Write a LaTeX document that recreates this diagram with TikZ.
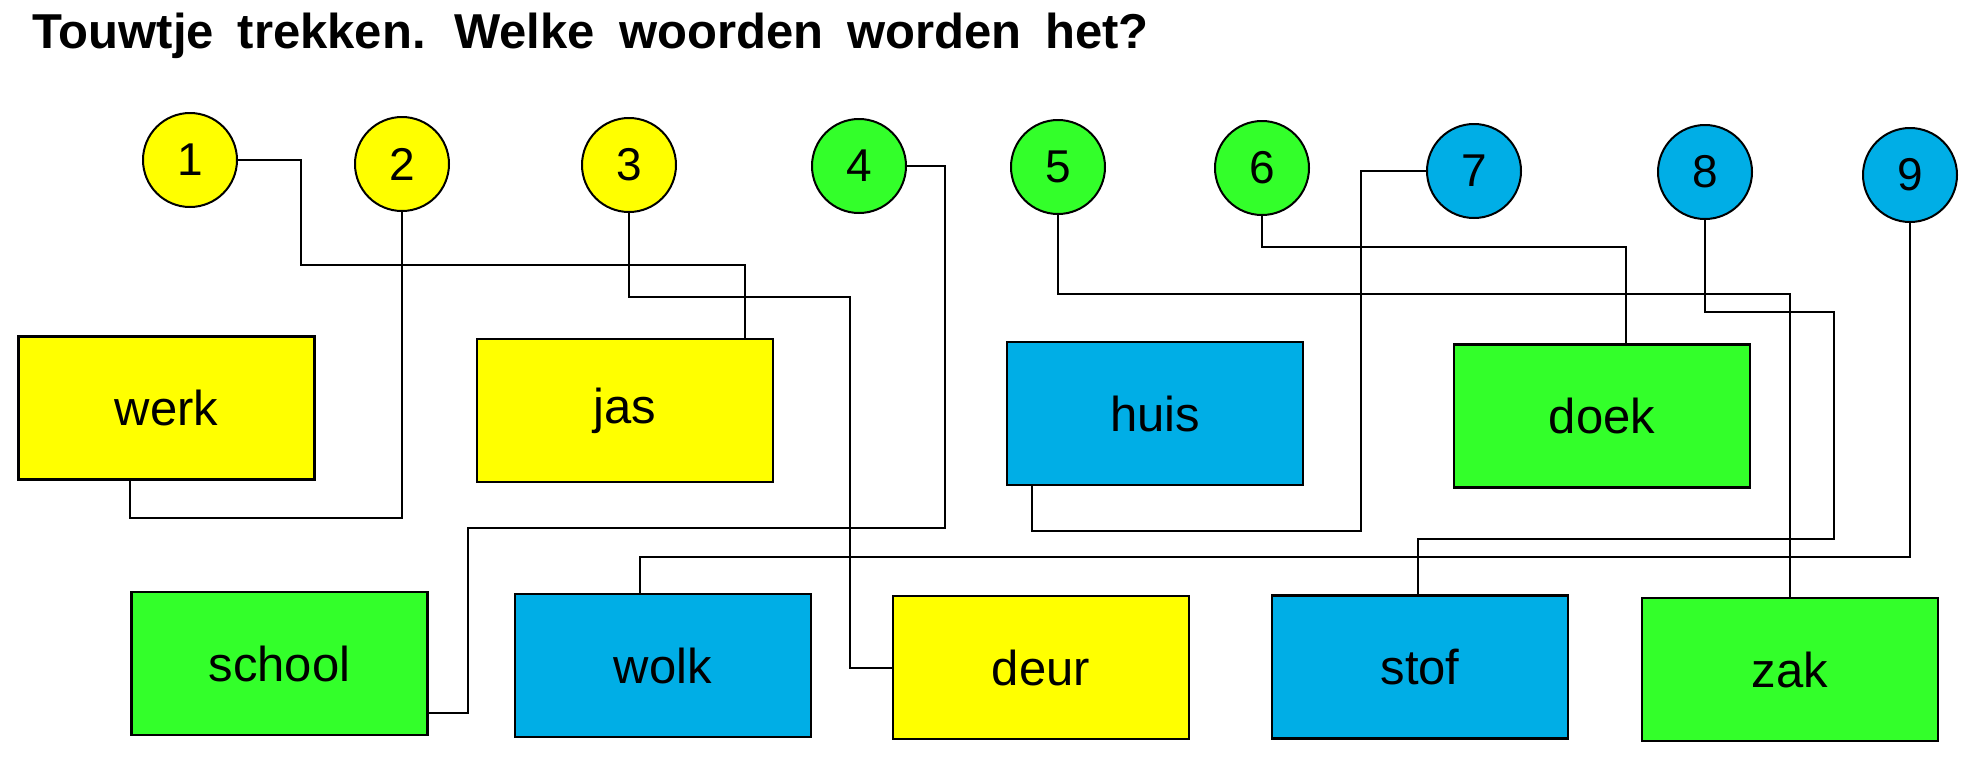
\documentclass[tikz,border=0pt]{standalone}
\usepackage{fontspec}
\setmainfont{Liberation Sans}
\definecolor{cyel}{HTML}{FFFF00}
\definecolor{cgrn}{HTML}{33FF2A}
\definecolor{cblu}{HTML}{00AEE6}
\begin{document}
\begin{tikzpicture}[x=0.5pt,y=-0.5pt,
  num/.style={circle,draw,line width=1pt,minimum size=47pt,inner sep=0pt,font=\fontsize{23}{23}\selectfont},
  word/.style={rectangle,draw,line width=1.3pt,minimum width=148pt,minimum height=71.5pt,inner sep=0pt,font=\fontsize{24.5}{24.5}\selectfont},
  rope/.style={line width=1pt}]
\useasboundingbox (0,0) rectangle (1972,756);
\node[anchor=base west,inner sep=0pt,font=\fontsize{24.5}{24.5}\selectfont\bfseries] (title) at (32,48) {\spaceskip=12pt\relax Touwtje trekken. Welke woorden worden het?};
% circles
\node[num,fill=cyel] (c1) at (190,160) {1};
\node[num,fill=cyel] (c2) at (402,164) {2};
\node[num,fill=cyel] (c3) at (629,165) {3};
\node[num,fill=cgrn] (c4) at (859,166) {4};
\node[num,fill=cgrn] (c5) at (1058,167) {5};
\node[num,fill=cgrn] (c6) at (1262,168) {6};
\node[num,fill=cblu] (c7) at (1474,171) {7};
\node[num,fill=cblu] (c8) at (1705,172) {8};
\node[num,fill=cblu] (c9) at (1910,175) {9};
% word boxes
\node[word,fill=cyel] (werk) at (166.5,408) {werk};
\node[word,fill=cyel] (jas) at (625,410.5) {jas};
\node[word,fill=cblu] (huis) at (1155,413.5) {huis};
\node[word,fill=cgrn] (doek) at (1602,416) {doek};
\node[word,fill=cgrn] (school) at (279.5,663.5) {school};
\node[word,fill=cblu] (wolk) at (663,665.5) {wolk};
\node[word,fill=cyel] (deur) at (1041,667.5) {deur};
\node[word,fill=cblu] (stof) at (1420,667) {stof};
\node[word,fill=cgrn] (zak) at (1790,669.5) {zak};
% ropes
\draw[rope] (c1.east) -| (301,265) -| (745,0 |- jas.north);
\draw[rope] (c2.south) |- (130,518) -- (130,0 |- werk.south);
\draw[rope] (c3.south) |- (850,297) |- (deur.west);
\draw[rope] (c4.east) -| (945,528) -| (468,713) -- (school.east |- 0,713);
\draw[rope] (c5.south) -- ++(0,79) -| (zak.north);
\draw[rope] (c6.south) -- ++(0,31) -| (1626,0 |- doek.north);
\draw[rope] (c7.west) -| (1361,531) -| (1032,0 |- huis.south);
\draw[rope] (c8.south) |- (1834,312) |- (1418,539) -- (1418,0 |- stof.north);
\draw[rope] (c9.south) |- (640,557) -- (640,0 |- wolk.north);
\end{tikzpicture}
\end{document}
